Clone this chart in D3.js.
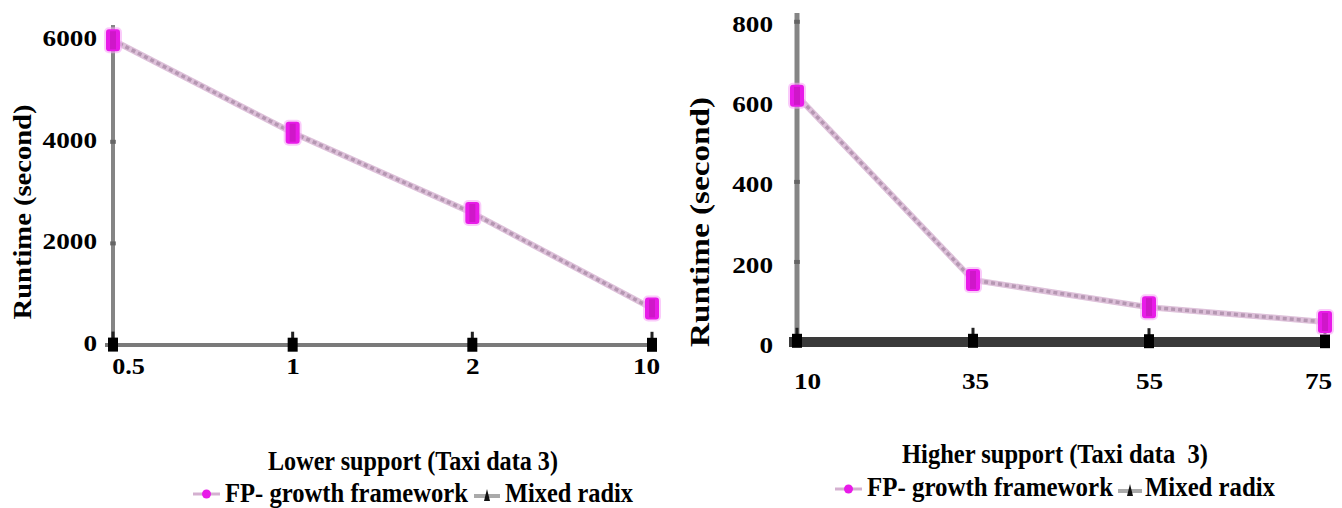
<!DOCTYPE html>
<html>
<head>
<meta charset="utf-8">
<script src="https://cdn.jsdelivr.net/npm/d3@7/dist/d3.min.js"></script>
<style>
  html, body { margin: 0; padding: 0; background: #fff; }
</style>
</head>
<body>
<svg id="chart" width="1342" height="508"></svg>
<script>
// ---- data ----
const lowerSupport = ["0.5", "1", "2", "10"];
const lowerFP = [6000, 4180, 2600, 720];
const lowerMixed = [8, 6, 5, 4];
const lowerYTicks = [0, 2000, 4000, 6000];

const higherSupport = ["10", "35", "55", "75"];
const higherFP = [615, 155, 87, 50];
const higherMixed = [3, 3, 2, 2];
const higherYTicks = [0, 200, 400, 600, 800];

const seriesNames = ["FP- growth framework", "Mixed radix"];
const lowerTitle = "Lower support (Taxi data 3)";
const higherTitle = "Higher support (Taxi data\u00a0 3)";
const yTitle = "Runtime (second)";

// ---- layout / style config ----
const FONT = "Liberation Serif";
const svg = d3.select("#chart");
const FP_LINE = "#d4b0d0", FP_BEAD = "#b597b2", FP_MARK = "#e81be8", FP_HALO = "#f7a8f7";

function styleText(sel, size) {
  return sel.style("font-family", FONT).style("font-weight", "bold")
    .attr("font-size", size).attr("fill", "#000");
}

function drawChart(cfg) {
  const g = svg.append("g");
  const x = d3.scalePoint().domain(cfg.cats).range(cfg.xRange).padding(0);
  const y = d3.scaleLinear().domain(cfg.yDomain).range(cfg.yRange);
  const x0 = cfg.xRange[0];

  // y axis line
  g.append("line").attr("x1", x0).attr("x2", x0)
    .attr("y1", y(cfg.yDomain[0])).attr("y2", y(cfg.yDomain[1]))
    .attr("stroke", "#858585").attr("stroke-width", cfg.yAxisW);

  // y axis labels
  const ya = d3.axisLeft(y).tickValues(cfg.yTicks).tickFormat(d3.format("d"))
    .tickSize(0).tickPadding(cfg.yPad).tickSizeOuter(0);
  const yg = g.append("g").attr("transform", `translate(${x0},0)`).call(ya);
  yg.attr("font-family", null).attr("font-size", null);
  yg.select(".domain").remove();
  styleText(yg.selectAll(".tick text"), 24)
    .attr("dy", cfg.yLabelDy)
    .attr("textLength", d => String(d).length * cfg.digitW)
    .attr("lengthAdjust", "spacingAndGlyphs");
  // small tick marks on axis
  g.selectAll(".ytm").data(cfg.yTicks.filter(d => d > 0)).enter().append("rect")
    .attr("x", x0 - 3).attr("y", d => y(d) - 2).attr("width", 6).attr("height", 4)
    .attr("fill", "#555").attr("opacity", 0.7);

  // x axis line
  g.append("line").attr("x1", cfg.xRange[0] - 8).attr("x2", cfg.xRange[1] + 5)
    .attr("y1", y(0)).attr("y2", y(0))
    .attr("stroke", cfg.xAxisColor).attr("stroke-width", cfg.xAxisW);

  // x labels
  const xa = d3.axisBottom(x).tickSize(0).tickPadding(cfg.xPad).tickSizeOuter(0);
  const xg = g.append("g").attr("transform", `translate(0,${y(0)})`).call(xa);
  xg.attr("font-family", null).attr("font-size", null);
  xg.select(".domain").remove();
  styleText(xg.selectAll(".tick text"), 24)
    .attr("dx", (d, i) => cfg.xLabelDx[i])
    .attr("textLength", d => String(d).length * cfg.digitW * (d.includes(".") ? 0.8 : 1))
    .attr("lengthAdjust", "spacingAndGlyphs");

  // FP line
  const line = d3.line().x((d, i) => x(cfg.cats[i])).y(d => y(d));
  g.append("path").datum(cfg.fp).attr("d", line).attr("fill", "none")
    .attr("stroke", FP_LINE).attr("stroke-width", 6).attr("opacity", 0.8);
  g.append("path").datum(cfg.fp).attr("d", line).attr("fill", "none")
    .attr("stroke", FP_BEAD).attr("stroke-width", 3.5).attr("stroke-dasharray", "4,3");

  // Mixed radix markers
  const mg = g.selectAll(".mx").data(cfg.mixed).enter().append("g")
    .attr("transform", (d, i) => `translate(${x(cfg.cats[i])},${y(d)})`);
  mg.append("rect").attr("x", -1.5).attr("y", -13).attr("width", 3).attr("height", 8).attr("fill", "#222");
  mg.append("rect").attr("x", -5).attr("y", -7).attr("width", 10).attr("height", 14).attr("fill", "#000");

  // FP markers
  const fg = g.selectAll(".fpm").data(cfg.fp).enter().append("g")
    .attr("transform", (d, i) => `translate(${x(cfg.cats[i])},${y(d)})`);
  fg.append("rect").attr("x", -9).attr("y", -13).attr("width", 18).attr("height", 26).attr("rx", 5)
    .attr("fill", FP_HALO).attr("opacity", 0.6);
  fg.append("rect").attr("x", -7).attr("y", -11).attr("width", 14).attr("height", 22).attr("rx", 3)
    .attr("fill", FP_MARK);
  fg.append("rect").attr("x", -3).attr("y", -9).attr("width", 6).attr("height", 18)
    .attr("fill", "#a0108f").attr("opacity", 0.35);

  // y title
  styleText(g.append("text"), cfg.yTitle.size)
    .attr("transform", `translate(${cfg.yTitle.x},${cfg.yTitle.y}) rotate(-90)`)
    .attr("text-anchor", "middle").attr("dy", "0.35em")
    .attr("textLength", cfg.yTitle.len).attr("lengthAdjust", "spacingAndGlyphs")
    .text(yTitle);

  // x title
  styleText(g.append("text"), 27)
    .attr("x", cfg.xTitle.x).attr("y", cfg.xTitle.y)
    .attr("textLength", cfg.xTitle.len).attr("lengthAdjust", "spacingAndGlyphs")
    .text(cfg.title);

  // legend
  const L = cfg.legend;
  g.append("line").attr("x1", L.fpLine[0]).attr("x2", L.fpLine[1]).attr("y1", L.y).attr("y2", L.y)
    .attr("stroke", FP_LINE).attr("stroke-width", 3);
  g.append("circle").attr("cx", (L.fpLine[0] + L.fpLine[1]) / 2).attr("cy", L.y).attr("r", 4.5).attr("fill", FP_MARK);
  styleText(g.append("text"), 27)
    .attr("x", L.fpText[0]).attr("y", L.base)
    .attr("textLength", L.fpText[1] - L.fpText[0]).attr("lengthAdjust", "spacingAndGlyphs")
    .text(seriesNames[0]);
  g.append("line").attr("x1", L.mxLine[0]).attr("x2", L.mxLine[1]).attr("y1", L.y + 2).attr("y2", L.y + 2)
    .attr("stroke", "#aaa").attr("stroke-width", 4);
  const mcx = (L.mxLine[0] + L.mxLine[1]) / 2;
  g.append("path").attr("d", `M${mcx - 3},${L.y + 7} L${mcx},${L.y - 5} L${mcx + 3},${L.y + 7} Z`).attr("fill", "#111");
  styleText(g.append("text"), 27)
    .attr("x", L.mxText[0]).attr("y", L.base)
    .attr("textLength", L.mxText[1] - L.mxText[0]).attr("lengthAdjust", "spacingAndGlyphs")
    .text(seriesNames[1]);
}

drawChart({
  cats: lowerSupport, fp: lowerFP, mixed: lowerMixed, yTicks: lowerYTicks,
  xRange: [113, 652], yDomain: [0, 6300], yRange: [345, 25],
  yAxisW: 4, xAxisW: 4, xAxisColor: "#7a7a7a",
  yPad: 16, yLabelDy: "0.22em", digitW: 13.6, xPad: 12, xLabelDx: [15, 0, 0, -6],
  yTitle: { x: 22, y: 212, len: 215, size: 26 },
  title: lowerTitle, xTitle: { x: 268, y: 470, len: 290 },
  legend: { y: 494, base: 502, fpLine: [193, 220], fpText: [225, 468], mxLine: [474, 500], mxText: [505, 633] }
});

drawChart({
  cats: higherSupport, fp: higherFP, mixed: higherMixed, yTicks: higherYTicks,
  xRange: [797, 1325], yDomain: [0, 822], yRange: [342, 13],
  yAxisW: 5, xAxisW: 10, xAxisColor: "#3a3a3a",
  yPad: 24, yLabelDy: "0.42em", digitW: 13.6, xPad: 30, xLabelDx: [10, 2, 0, -7],
  yTitle: { x: 699, y: 222, len: 250, size: 28 },
  title: higherTitle, xTitle: { x: 902, y: 463, len: 306 },
  legend: { y: 489, base: 496, fpLine: [835, 862], fpText: [867, 1113], mxLine: [1118, 1142], mxText: [1145, 1275] }
});
</script>
</body>
</html>
